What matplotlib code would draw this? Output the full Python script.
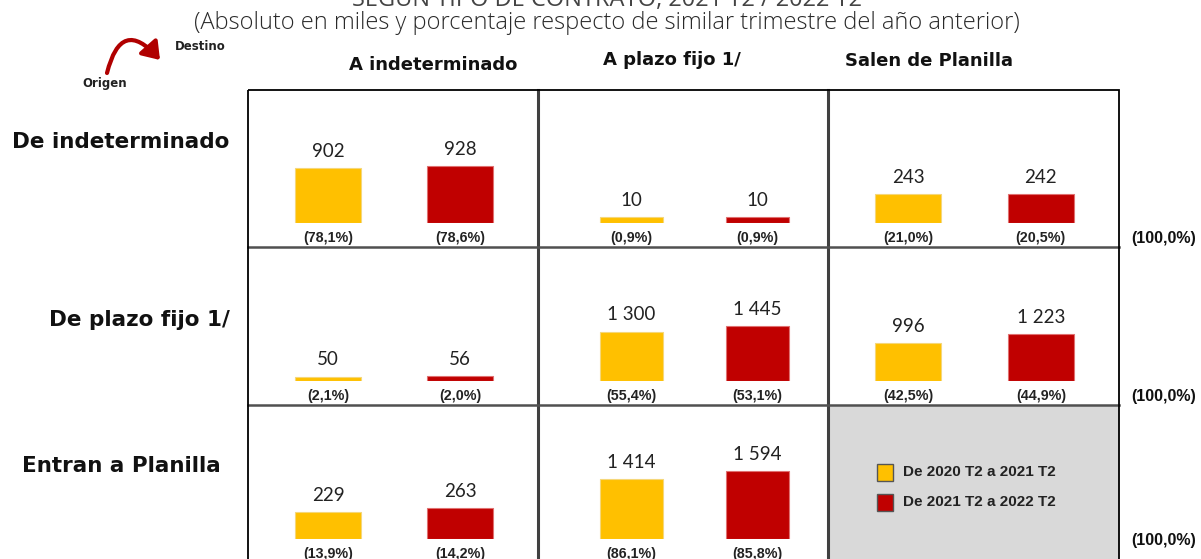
import numpy as np
import matplotlib
matplotlib.use("Agg")
import matplotlib.pyplot as plt
from matplotlib.patches import FancyArrowPatch, Rectangle

# flujos de trabajadores (miles) y participacion por fila
origins = ["De indeterminado", "De plazo fijo 1/", "Entran a Planilla"]
destinations = ["A indeterminado", "A plazo fijo 1/", "Salen de Planilla"]
periods = ["De 2020 T2 a 2021 T2", "De 2021 T2 a 2022 T2"]

flows_2021 = [[902, 10, 243],
              [50, 1300, 996],
              [229, 1414, None]]
flows_2022 = [[928, 10, 242],
              [56, 1445, 1223],
              [263, 1594, None]]
share_2021 = [[78.1, 0.9, 21.0],
              [2.1, 55.4, 42.5],
              [13.9, 86.1, None]]
share_2022 = [[78.6, 0.9, 20.5],
              [2.0, 53.1, 44.9],
              [14.2, 85.8, None]]
row_totals = [100.0, 100.0, 100.0]

colors = ["#FFC000", "#C00000"]
edges = ["#F5D77A", "#E07070"]

# each cell has its own value axis
cell_ymax = [[2182, 223, 1123],
             [1500, 3520, 3487],
             [1137, 3141, None]]

W, H = 1201, 559
fig = plt.figure(figsize=(W / 100, H / 100), dpi=100)

frame = fig.add_axes([0, 0, 1, 1])
frame.set_xlim(0, W)
frame.set_ylim(H, 0)
frame.axis("off")

# grid geometry in pixels
gx = [248, 538, 828, 1119]
gy = [90, 247, 405, 563]
base_off = 24

frame.add_patch(Rectangle((gx[2], gy[2]), gx[3] - gx[2], gy[3] - gy[2],
                          facecolor="#D9D9D9", edgecolor="none", zorder=0))
for x in gx[1:3]:
    frame.plot([x, x], [gy[0], gy[3]], color="#404040", lw=2.2, zorder=2)
for y in gy[1:3]:
    frame.plot([gx[0], gx[3]], [y, y], color="#505050", lw=1.8, zorder=2)
frame.add_patch(Rectangle((gx[0], gy[0]), gx[3] - gx[0], gy[3] - gy[0],
                          facecolor="none", edgecolor="black", lw=1.3, zorder=3))

frame.text(607, 6, "SEGÚN TIPO DE CONTRATO, 2021 T2 / 2022 T2", ha="center",
           va="baseline", fontsize=17, family="Open Sans", color="#444444")
frame.text(607, 23, "(Absoluto en miles y porcentaje respecto de similar trimestre del año anterior)",
           ha="center", va="center", fontsize=17, family="Open Sans", fontweight="light",
           color="#2a2a2a")

frame.text(175, 47, "Destino", ha="left", va="center", fontsize=8.5,
           family="DejaVu Sans", fontweight="bold", color="#222222")
frame.text(105, 84, "Origen", ha="center", va="center", fontsize=8.5,
           family="DejaVu Sans", fontweight="bold", color="#222222")
frame.add_patch(FancyArrowPatch((107, 73), (160, 60), connectionstyle="arc3,rad=-0.95",
                                arrowstyle="-|>,head_length=10,head_width=7",
                                shrinkA=0, shrinkB=0,
                                color="#B00000", lw=3, zorder=4))

header_x = [433, 672, 929]
header_y = [65, 60, 61]
for name, x, y in zip(destinations, header_x, header_y):
    frame.text(x, y, name, ha="center", va="center", fontsize=13,
               family="DejaVu Sans", fontweight="bold", color="#111111")

row_label_x = [121, 139, 121]
row_label_y = [142, 320, 466]
for name, x, y in zip(origins, row_label_x, row_label_y):
    frame.text(x, y, name, ha="center", va="center", fontsize=15.5,
               family="DejaVu Sans", fontweight="bold", color="#111111")

for r, tot in enumerate(row_totals):
    frame.text(1164, gy[r + 1] - 8 if r < 2 else 541, f"({tot:.1f}%)".replace(".", ","),
               ha="center", va="center", fontsize=11.5, family="Liberation Sans",
               fontweight="bold", color="#111111")

# bar cells: x limits place the two bars inside each column
col_xlim = [(-0.606, 1.59), (-0.738, 1.563), (-0.606, 1.59)]
for r in range(3):
    for c in range(3):
        if flows_2021[r][c] is None:
            continue
        left = gx[c] / W
        bottom = 1 - (gy[r + 1] - base_off) / H
        height = (gy[r + 1] - base_off - gy[r]) / H
        width = (gx[c + 1] - gx[c]) / W
        ax = fig.add_axes([left, bottom, width, height])
        ax.patch.set_visible(False)
        ax.axis("off")
        vals = [flows_2021[r][c], flows_2022[r][c]]
        pcts = [share_2021[r][c], share_2022[r][c]]
        xs = np.arange(2)
        ax.bar(xs, vals, width=0.5, color=colors, edgecolor=edges, lw=0.8)
        ax.set_xlim(*col_xlim[c])
        ax.set_ylim(0, cell_ymax[r][c])
        for x, v, p in zip(xs, vals, pcts):
            ax.annotate(f"{v:,}".replace(",", " "), (x, v), xytext=(0, 12),
                        textcoords="offset points", ha="center", va="center",
                        fontsize=13.5, family="Lato", color="#222222", annotation_clip=False)
            ax.annotate(f"({p:.1f}%)".replace(".", ","), (x, 0), xytext=(0, -11),
                        textcoords="offset points", ha="center", va="center",
                        fontsize=10.3, family="Liberation Sans", fontweight="bold",
                        color="#222222", annotation_clip=False)

# legend inside the empty cell
for i, (lab, col) in enumerate(zip(periods, colors)):
    y = 472 + 30 * i
    frame.add_patch(Rectangle((877, y - 8), 16, 17, facecolor=col, edgecolor="#555555",
                              lw=1, zorder=5))
    frame.text(903, y, lab, ha="left", va="center", fontsize=11,
               family="Liberation Sans", fontweight="bold", color="#222222", zorder=5)

fig.savefig("out.png", dpi=100)
